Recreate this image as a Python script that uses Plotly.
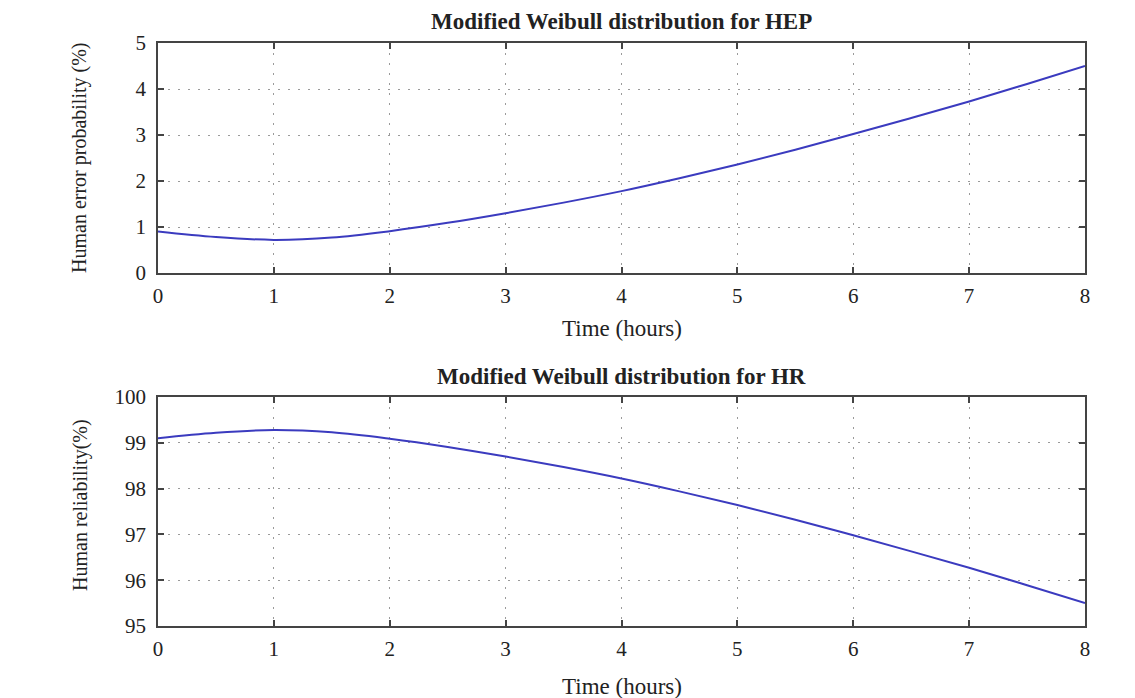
import plotly.graph_objects as go

time_hours = [0, 0.5, 1.0, 1.5, 2.0, 2.5, 3.0, 3.5, 4.0, 4.5, 5.0, 5.5, 6.0, 6.5, 7.0, 7.5, 8.0]
hep_percent = [0.90, 0.78, 0.72, 0.77, 0.91, 1.09, 1.30, 1.53, 1.78, 2.06, 2.36, 2.68, 3.02, 3.37, 3.73, 4.11, 4.50]
hr_percent = [99.10, 99.22, 99.28, 99.23, 99.09, 98.91, 98.70, 98.47, 98.22, 97.94, 97.64, 97.32, 96.98, 96.63, 96.27, 95.89, 95.50]

x_ticks = [0, 1, 2, 3, 4, 5, 6, 7, 8]
hep_ticks = [0, 1, 2, 3, 4, 5]
hr_ticks = [95, 96, 97, 98, 99, 100]

OFF = 8  # page body margin
W, H = 1135 - OFF, 698 - OFF
LINE = "#3b3bbf"
FONT = "Liberation Serif"
AX = "#444444"
GRID = "#9a9a9a"

def px(x):
    return (x - OFF) / W

def py(y):
    return 1 - (y - OFF) / H

fig = go.Figure()
fig.add_trace(go.Scatter(x=time_hours, y=hep_percent, mode="lines", line=dict(color=LINE, width=2, shape="spline"),
                         xaxis="x", yaxis="y", showlegend=False))
fig.add_trace(go.Scatter(x=time_hours, y=hr_percent, mode="lines", line=dict(color=LINE, width=2, shape="spline"),
                         xaxis="x2", yaxis="y2", showlegend=False))

common = dict(showline=True, linecolor=AX, linewidth=1.5, mirror="ticks",
              ticks="inside", ticklen=6, tickcolor=AX, tickwidth=1.5,
              showgrid=True, gridcolor=GRID, griddash="2px,8px", gridwidth=1,
              zeroline=False, automargin=False,
              tickfont=dict(family=FONT, size=21, color="#222"))

def xaxis(anchor):
    return dict(domain=[px(158), px(1085)], range=[0, 8], tickvals=x_ticks, anchor=anchor,
                ticklabelstandoff=3, **common)

def yaxis(anchor, top, bot, rng, tv):
    return dict(domain=[py(bot), py(top)], range=rng, tickvals=tv, anchor=anchor,
                ticklabelstandoff=6, **common)

fig.update_layout(
    width=W, height=H,
    margin=dict(l=0, r=0, t=0, b=0, pad=0),
    autosize=False,
    paper_bgcolor="white", plot_bgcolor="white",
    xaxis=xaxis("y"),
    yaxis=yaxis("x", 43, 273, [0, 5], hep_ticks),
    xaxis2=xaxis("y2"),
    yaxis2=yaxis("x2", 397, 626, [95, 100], hr_ticks),
)

cx = px((158 + 1085) / 2)
ann = [
    dict(text="<b>Modified Weibull distribution for HEP</b>", x=cx, y=py(22), font=dict(size=23)),
    dict(text="<b>Modified Weibull distribution for HR</b>", x=cx, y=py(376), font=dict(size=23)),
    dict(text="Time (hours)", x=cx, y=py(328), font=dict(size=23)),
    dict(text="Time (hours)", x=cx, y=py(686), font=dict(size=23)),
    dict(text="Human error probability (%)", x=px(80), y=py(158), textangle=-90, font=dict(size=20)),
    dict(text="Human reliability(%)", x=px(80), y=py(505), textangle=-90, font=dict(size=20)),
]
for a in ann:
    a["font"].update(family=FONT, color="#222")
    fig.add_annotation(xref="paper", yref="paper", showarrow=False, xanchor="center", yanchor="middle", **a)

fig.write_html("out.html")
